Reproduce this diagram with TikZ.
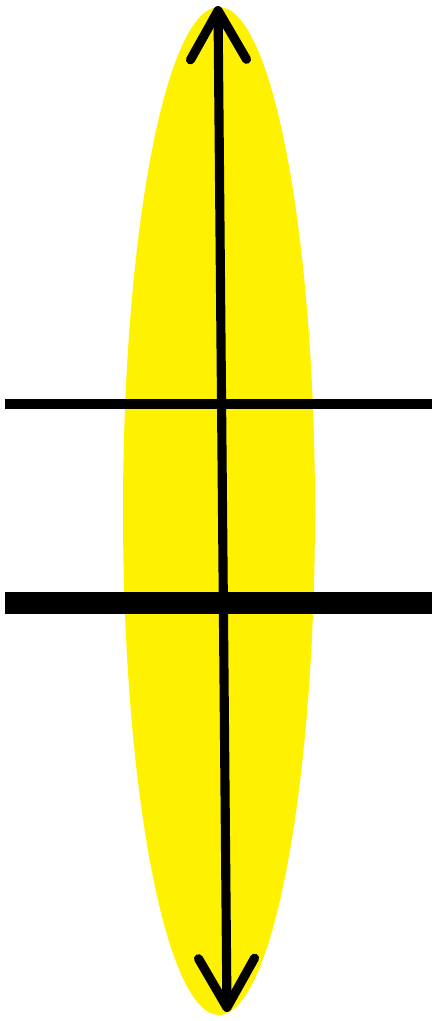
\documentclass[tikz,border=0pt]{standalone}
\usepackage{xcolor}
\usepackage{tikz}
\usetikzlibrary{arrows.meta}
\definecolor{lensc}{RGB}{255,242,0}

\begin{document}
\begin{tikzpicture}[x=0.1mm, y=-0.1mm,
    lens/.style={fill=lensc, draw=none},
    axis/.style={{Straight Barb[length=4.9mm, width=5.6mm, round]}-{Straight Barb[length=4.9mm, width=5.6mm, round]},
      line width=2.6pt, black},
    thinplane/.style={line width=2.85pt, black},
    thickplane/.style={line width=6.5pt, black}]
  \useasboundingbox (0,0) rectangle (432,1021);
  % lens body
  \fill[lens] (219,511) ellipse [x radius=96, y radius=504];
  % optical axis
  \coordinate (top) at (218,6);
  \coordinate (bot) at (227,1012);
  \draw[axis] (bot) -- (top);
  % planes
  \coordinate (p1l) at (5,404);
  \coordinate (p1r) at (432,404);
  \coordinate (p2l) at (5,603);
  \coordinate (p2r) at (432,603);
  \draw[thinplane] (p1l) -- (p1r);
  \draw[thickplane] (p2l) -- (p2r);
\end{tikzpicture}
\end{document}
